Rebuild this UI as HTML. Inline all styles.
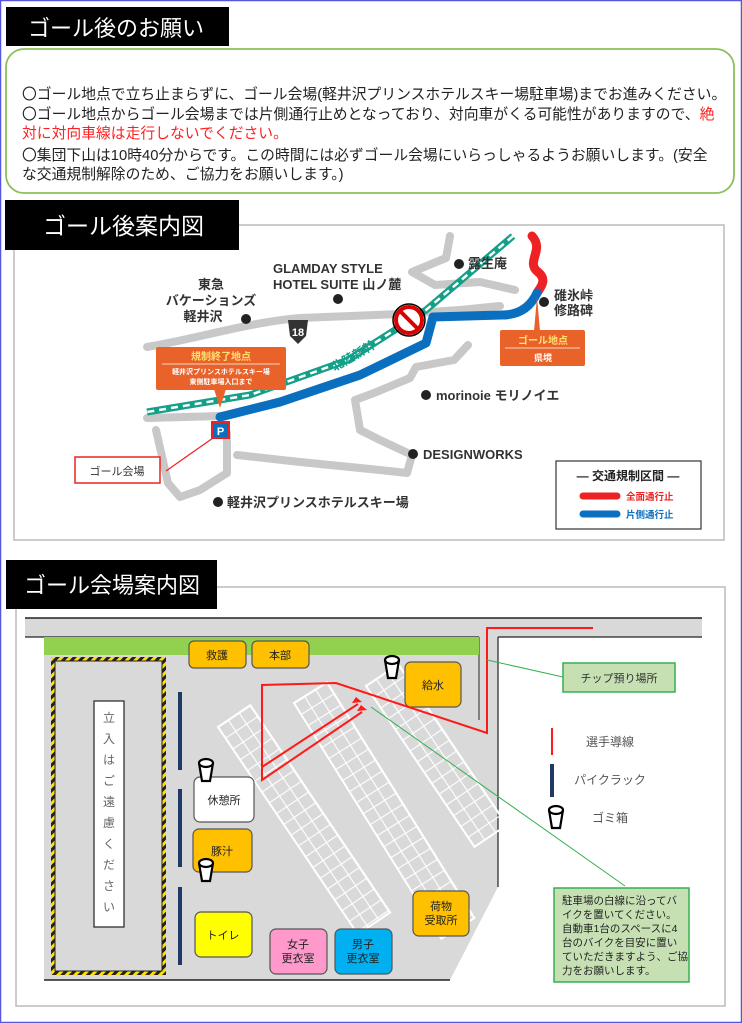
<!DOCTYPE html>
<html><head><meta charset="utf-8"><style>
html,body{margin:0;padding:0;background:#fff}
svg{display:block}
text{font-family:"Liberation Sans","Noto Sans CJK JP",sans-serif}
</style></head><body>
<svg width="742" height="1024" viewBox="0 0 742 1024" xmlns="http://www.w3.org/2000/svg">
<defs>
<pattern id="grid" patternUnits="userSpaceOnUse" width="13" height="13">
<path d="M0 0H13M0 0V13" stroke="#fff" stroke-width="2.2" fill="none"/>
</pattern>
<pattern id="haz" patternUnits="userSpaceOnUse" width="6" height="6" patternTransform="rotate(45)">
<rect width="6" height="6" fill="#ffe000"/><rect width="3" height="6" fill="#222"/>
</pattern>
<g id="can"><path d="M-7,-8 L-4,10 L4,10 L7,-8" fill="#fff" stroke="#000" stroke-width="2.2"/><ellipse cx="0" cy="-8" rx="7" ry="4" fill="#fff" stroke="#000" stroke-width="2.2"/></g>
</defs>
<rect x="0.5" y="0.5" width="741" height="1022" fill="#fff" stroke="#5555dd" stroke-width="1.5"/>

<rect x="6" y="7" width="223" height="39" fill="#000"/>
<text x="28" y="36" font-size="22" fill="#fff">ゴール後のお願い</text>
<rect x="6" y="49" width="728" height="144" rx="18" fill="#fff" stroke="#8cbf5a" stroke-width="1.8"/>
<g font-size="14.8" fill="#222">
<text x="22" y="99">〇ゴール地点で立ち止まらずに、ゴール会場(軽井沢プリンスホテルスキー場駐車場)までお進みください。</text>
<text x="22" y="119">〇ゴール地点からゴール会場までは片側通行止めとなっており、対向車がくる可能性がありますので、<tspan fill="#ff2020">絶</tspan></text>
<text x="22" y="138" fill="#ff2020">対に対向車線は走行しないでください。</text>
<text x="22" y="160">〇集団下山は10時40分からです。この時間には必ずゴール会場にいらっしゃるようお願いします。(安全</text>
<text x="22" y="179">な交通規制解除のため、ご協力をお願いします。)</text>
</g>

<rect x="14" y="225" width="710" height="315" fill="#fff" stroke="#bbb" stroke-width="1.5"/>
<rect x="5" y="200" width="234" height="50" fill="#000"/>
<text x="43" y="234" font-size="23" fill="#fff">ゴール後案内図</text>
<g fill="none" stroke="#c8c8c8" stroke-width="8" stroke-linejoin="round" stroke-linecap="round">
<path d="M147,347 C200,338 250,322 300,318 L400,314 L460,310 L500,306"/>
<path d="M450,236 L446,258 L412,272 L435,285 L480,282 L515,290"/>
<path d="M147,418 L222,416"/>
<path d="M156,430 L168,483 L180,497 L200,490 L227,473 L227,433"/>
<path d="M237,455 L300,462 L380,470 L407,473 L412,455 L380,440 L360,430 L355,400 L374,393 L410,378 L416,367 L454,360 L468,345"/>
</g>
<path d="M513,236 L426,310 L348,360 L250,395 L147,412" fill="none" stroke="#14a088" stroke-width="7"/>
<path d="M513,236 L426,310 L348,360 L250,395 L147,412" fill="none" stroke="#fff" stroke-width="2.5" stroke-dasharray="7 5"/>
<text x="330" y="362" font-size="12" font-weight="bold" fill="#14a088" transform="rotate(-30 350 358)">北陸新幹</text>
<path d="M532,236 C545,250 525,262 538,272 C548,280 540,288 537,293" fill="none" stroke="#ee2222" stroke-width="9" stroke-linecap="round"/>
<path d="M537,293 C530,308 518,315 502,315 L433,317 L426,343 L360,375 L280,402 L220,417" fill="none" stroke="#0b6fbf" stroke-width="9" stroke-linecap="round" stroke-linejoin="round"/>
<circle cx="409" cy="320" r="13" fill="#fff" stroke="#d00" stroke-width="4"/>
<line x1="400" y1="311" x2="418" y2="329" stroke="#d00" stroke-width="4"/>
<circle cx="409" cy="320" r="16" fill="none" stroke="#000" stroke-width="1.5"/>
<path d="M288,320 L308,320 L306,336 L298,344 L290,336 Z" fill="#333"/>
<text x="298" y="336" font-size="11" font-weight="bold" fill="#fff" text-anchor="middle">18</text>
<g font-size="13" font-weight="bold" fill="#333">
<text x="211" y="289" text-anchor="middle">東急</text>
<text x="211" y="305" text-anchor="middle">バケーションズ</text>
<text x="203" y="321" text-anchor="middle">軽井沢</text>
<text x="273" y="273">GLAMDAY STYLE</text>
<text x="273" y="289">HOTEL SUITE 山ノ麓</text>
<text x="468" y="268">露生庵</text>
<text x="554" y="300">碓氷峠</text>
<text x="554" y="315">修路碑</text>
<text x="436" y="400">morinoie モリノイエ</text>
<text x="423" y="459">DESIGNWORKS</text>
<text x="227" y="507">軽井沢プリンスホテルスキー場</text>
</g>
<g fill="#222"><circle cx="246" cy="319" r="5"/><circle cx="338" cy="299" r="5"/><circle cx="459" cy="264" r="5"/><circle cx="544" cy="302" r="5"/><circle cx="426" cy="395" r="5"/><circle cx="413" cy="454" r="5"/><circle cx="218" cy="502" r="5"/></g>
<rect x="156" y="347" width="130" height="43" rx="2" fill="#e8622a"/>
<path d="M214,389 L220,408 L226,389Z" fill="#e8622a"/>
<text x="221" y="360" font-size="10" font-weight="bold" fill="#ffe070" text-anchor="middle">規制終了地点</text>
<line x1="162" y1="364" x2="280" y2="364" stroke="#fff" stroke-width="0.8"/>
<text x="221" y="374" font-size="7" font-weight="bold" fill="#fff" text-anchor="middle">軽井沢プリンスホテルスキー場</text>
<text x="221" y="384" font-size="7" font-weight="bold" fill="#fff" text-anchor="middle">東側駐車場入口まで</text>
<rect x="500" y="330" width="85" height="36" rx="2" fill="#e8622a"/>
<path d="M534,331 L537,297 L540,331Z" fill="#e8622a"/>
<text x="543" y="344" font-size="10" font-weight="bold" fill="#ffe070" text-anchor="middle">ゴール地点</text>
<line x1="505" y1="348" x2="580" y2="348" stroke="#fff" stroke-width="0.8"/>
<text x="543" y="361" font-size="9" font-weight="bold" fill="#fff" text-anchor="middle">県境</text>
<rect x="212" y="422" width="17" height="16" fill="#0b6fbf" stroke="#e22" stroke-width="2"/>
<text x="220.5" y="435" font-size="11" font-weight="bold" fill="#fff" text-anchor="middle">P</text>
<line x1="166" y1="471" x2="213" y2="438" stroke="#e22" stroke-width="1.2"/>
<rect x="75" y="457" width="85" height="26" fill="#fff" stroke="#e22" stroke-width="1.5"/>
<text x="117" y="475" font-size="11" fill="#333" text-anchor="middle">ゴール会場</text>
<rect x="556" y="461" width="145" height="68" fill="#fff" stroke="#333" stroke-width="1.2"/>
<text x="628" y="480" font-size="12" font-weight="bold" fill="#222" text-anchor="middle">— 交通規制区間 —</text>
<line x1="583" y1="496" x2="617" y2="496" stroke="#ee2222" stroke-width="7" stroke-linecap="round"/>
<text x="626" y="500" font-size="9.5" font-weight="bold" fill="#ee2222">全面通行止</text>
<line x1="583" y1="514" x2="617" y2="514" stroke="#0b6fbf" stroke-width="7" stroke-linecap="round"/>
<text x="626" y="518" font-size="9.5" font-weight="bold" fill="#0b6fbf">片側通行止</text>

<rect x="16" y="587" width="709" height="419" fill="#fff" stroke="#bbb" stroke-width="1.5"/>
<rect x="6" y="560" width="211" height="49" fill="#000"/>
<text x="24" y="593" font-size="22" fill="#fff">ゴール会場案内図</text>
<rect x="25" y="618" width="677" height="19" fill="#d9d9d9"/>
<line x1="25" y1="618" x2="702" y2="618" stroke="#222" stroke-width="1.5"/>
<line x1="25" y1="637" x2="479" y2="637" stroke="#222" stroke-width="1.2"/>
<line x1="498" y1="637" x2="702" y2="637" stroke="#222" stroke-width="1.2"/>
<path d="M44,637 L498,637 L498,887 L450,980 L44,980Z" fill="#d9d9d9"/>
<line x1="44" y1="980" x2="450" y2="980" stroke="#222" stroke-width="1.5"/>
<line x1="498" y1="637" x2="498" y2="887" stroke="#222" stroke-width="1.2"/>
<line x1="479" y1="637" x2="479" y2="720" stroke="#444" stroke-width="1.2"/>
<rect x="44" y="637" width="435" height="18" fill="#92d050"/>
<rect x="51" y="657" width="115" height="318" fill="url(#haz)"/>
<rect x="55" y="661" width="107" height="310" fill="#d9d9d9" stroke="#222" stroke-width="1"/>
<rect x="94" y="701" width="30" height="226" fill="#fff" stroke="#222" stroke-width="1.2"/>
<g font-size="12" fill="#666" text-anchor="middle">
<text x="109" y="722">立</text><text x="109" y="743">入</text><text x="109" y="764">は</text><text x="109" y="785">ご</text><text x="109" y="806">遠</text><text x="109" y="827">慮</text><text x="109" y="848">く</text><text x="109" y="869">だ</text><text x="109" y="890">さ</text><text x="109" y="911">い</text>
</g>
<g transform="translate(218,727) rotate(56)"><rect x="0" y="-39" width="250" height="39" fill="url(#grid)" stroke="#fff" stroke-width="2"/></g>
<g transform="translate(294,703) rotate(58)"><rect x="0" y="-39" width="278" height="39" fill="url(#grid)" stroke="#fff" stroke-width="2"/></g>
<g transform="translate(366,686) rotate(56)"><rect x="0" y="-39" width="194" height="39" fill="url(#grid)" stroke="#fff" stroke-width="2"/></g>
<g stroke="#1f3864" stroke-width="4"><line x1="180" y1="692" x2="180" y2="770"/><line x1="180" y1="789" x2="180" y2="867"/><line x1="180" y1="887" x2="180" y2="965"/></g>
<g stroke="#555" stroke-width="1.2">
<rect x="189" y="641" width="57" height="27" rx="5" fill="#ffc000"/>
<rect x="252" y="641" width="57" height="27" rx="5" fill="#ffc000"/>
<rect x="405" y="662" width="56" height="45" rx="6" fill="#ffc000"/>
<rect x="194" y="777" width="60" height="45" rx="6" fill="#fff"/>
<rect x="193" y="829" width="59" height="43" rx="6" fill="#ffc000"/>
<rect x="195" y="912" width="57" height="45" rx="6" fill="#ffff00"/>
<rect x="270" y="929" width="57" height="45" rx="6" fill="#ff99cc"/>
<rect x="335" y="929" width="57" height="45" rx="6" fill="#00b0f0"/>
<rect x="413" y="891" width="56" height="45" rx="6" fill="#ffc000"/>
</g>
<g font-size="11" fill="#222" text-anchor="middle">
<text x="217" y="659">救護</text><text x="280" y="659">本部</text><text x="433" y="689">給水</text>
<text x="224" y="804">休憩所</text><text x="222" y="855">豚汁</text><text x="223" y="939">トイレ</text>
<text x="298" y="948">女子</text><text x="298" y="962">更衣室</text>
<text x="363" y="948">男子</text><text x="363" y="962">更衣室</text>
<text x="441" y="910">荷物</text><text x="441" y="924">受取所</text>
</g>
<use href="#can" x="392" y="668"/><use href="#can" x="206" y="771"/><use href="#can" x="206" y="871"/>
<g fill="none" stroke="#ff1a1a" stroke-width="2">
<path d="M593,628 L487,628 L487,733 L336,683 L262,685 L262,780 L362,712"/>
<path d="M262,767 L358,704"/>
</g>
<path d="M367,710 L357,711 L361,705Z" fill="#ff1a1a"/>
<path d="M362,702 L352,703 L356,697Z" fill="#ff1a1a"/>
<line x1="487" y1="660" x2="563" y2="677" stroke="#33b050" stroke-width="1"/>
<rect x="563" y="663" width="112" height="29" fill="#c6e0b4" stroke="#33b050" stroke-width="1.5"/>
<text x="619" y="682" font-size="11" fill="#333" text-anchor="middle">チップ預り場所</text>
<line x1="371" y1="707" x2="625" y2="886" stroke="#33b050" stroke-width="1"/>
<rect x="554" y="888" width="135" height="94" fill="#c6e0b4" stroke="#33b050" stroke-width="1.5"/>
<g font-size="10.5" fill="#222">
<text x="562" y="904">駐車場の白線に沿ってバ</text>
<text x="562" y="918">イクを置いてください。</text>
<text x="562" y="932">自動車1台のスペースに4</text>
<text x="562" y="946">台のバイクを目安に置い</text>
<text x="562" y="960">ていただきますよう、ご協</text>
<text x="562" y="974">力をお願いします。</text>
</g>
<line x1="552" y1="728" x2="552" y2="755" stroke="#ff1a1a" stroke-width="2"/>
<text x="610" y="746" font-size="12" fill="#555" text-anchor="middle">選手導線</text>
<line x1="552" y1="764" x2="552" y2="797" stroke="#1f3864" stroke-width="4"/>
<text x="610" y="784" font-size="12" fill="#555" text-anchor="middle">パイクラック</text>
<use href="#can" x="556" y="818"/>
<text x="610" y="822" font-size="12" fill="#555" text-anchor="middle">ゴミ箱</text>
</svg>
</body></html>
